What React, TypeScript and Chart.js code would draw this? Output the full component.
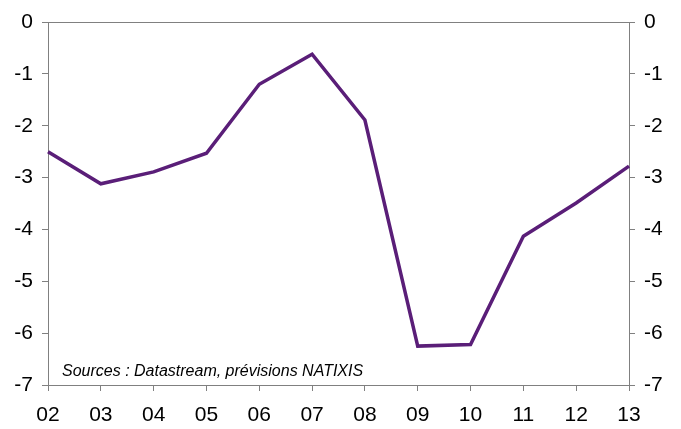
import React, { useEffect, useRef } from "react";
import { Chart, registerables } from "chart.js";

Chart.register(...registerables);

const categories = ["02", "03", "04", "05", "06", "07", "08", "09", "10", "11", "12", "13"];
const values = [-2.5, -3.12, -2.89, -2.53, -1.2, -0.62, -1.89, -6.25, -6.22, -4.13, -3.49, -2.78];
const sourceNote = "Sources : Datastream, prévisions NATIXIS";

const AXIS = "#808080";
const FONT = "'Liberation Sans', Arial, sans-serif";

const notePlugin = {
  id: "note",
  afterDraw(chart: any) {
    const { ctx, chartArea } = chart;
    ctx.save();
    ctx.font = `italic 16px ${FONT}`;
    ctx.fillStyle = "#000";
    ctx.textBaseline = "alphabetic";
    ctx.textAlign = "left";
    ctx.fillText(sourceNote, chartArea.left + 14, chartArea.bottom - 9);
    ctx.restore();
  },
};

export default function App() {
  const ref = useRef<HTMLCanvasElement | null>(null);
  useEffect(() => {
    document.body.style.margin = "0";
    const yCommon = (pos: "left" | "right", width: number) => ({
      type: "linear" as const,
      position: pos,
      min: -7,
      max: 0,
      afterFit: (s: any) => {
        s.width = width;
      },
      ticks: {
        stepSize: 1,
        color: "#000",
        font: { family: FONT, size: 21 },
        padding: 9,
      },
      border: { display: true, color: AXIS, width: 1 },
      grid: {
        drawOnChartArea: pos === "left",
        color: (c: any) => (c.tick && c.tick.value === 0 ? AXIS : "rgba(0,0,0,0)"),
        tickColor: AXIS,
        tickLength: 6,
        lineWidth: 1,
      },
    });
    const chart = new Chart(ref.current as HTMLCanvasElement, {
      type: "line",
      data: {
        labels: categories,
        datasets: [
          {
            data: values,
            borderColor: "#5A1E78",
            borderWidth: 3.5,
            pointRadius: 0,
            tension: 0,
            fill: false,
          },
        ],
      },
      options: {
        animation: false,
        responsive: false,
        layout: { padding: { top: 22, left: 0, right: 0, bottom: 0 } },
        plugins: { legend: { display: false }, tooltip: { enabled: false } },
        scales: {
          x: {
            offset: false,
            afterFit: (s: any) => {
              s.height = 44;
            },
            ticks: {
              color: "#000",
              font: { family: FONT, size: 21 },
              padding: 12,
              maxRotation: 0,
              autoSkip: false,
            },
            border: { display: true, color: AXIS, width: 1 },
            grid: {
              drawOnChartArea: false,
              tickColor: AXIS,
              tickLength: 6,
              offset: false,
            },
          },
          y: yCommon("left", 48),
          y2: yCommon("right", 52),
        },
      },
      plugins: [notePlugin],
    });
    return () => chart.destroy();
  }, []);
  return (
    <div style={{ width: 681, height: 429, background: "#fff" }}>
      <canvas ref={ref} width={681} height={429} style={{ display: "block" }} />
    </div>
  );
}
